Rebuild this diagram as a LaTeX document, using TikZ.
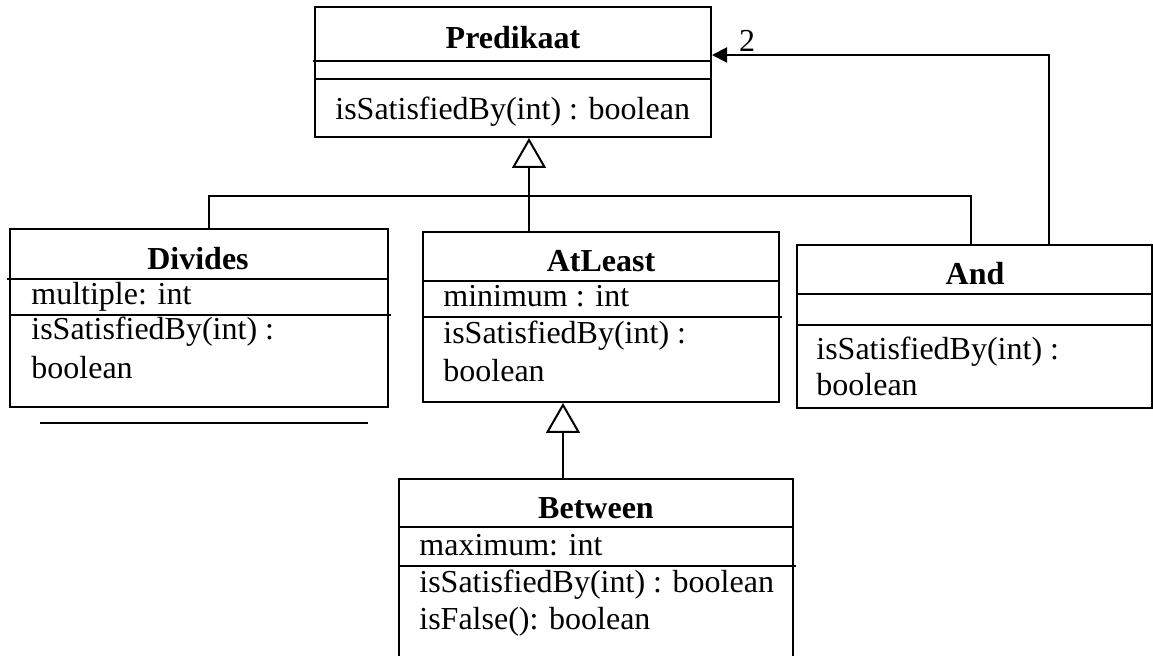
\documentclass[tikz,border=0pt]{standalone}
\usepackage{fontspec}
\setmainfont{Liberation Serif}
\usetikzlibrary{fit,arrows.meta}
\begin{document}
\begin{tikzpicture}[x=0.5pt,y=-0.5pt,
  every node/.style={font=\fontsize{16}{19}\selectfont},
  box/.style={draw,line width=1pt,inner sep=0pt,fill=none},
  sep/.style={line width=1pt},
  title/.style={anchor=base,inner sep=0pt,font=\fontsize{16}{19}\selectfont\bfseries},
  txt/.style={anchor=base west,inner sep=0pt},
  conn/.style={line width=1pt},
  gen/.style={line width=1pt,-{Triangle[open,length=15pt,width=17pt,line width=1pt]}},
  assoc/.style={line width=1pt,-{Triangle[length=7.5pt,width=7.5pt]}}]
\useasboundingbox (0,0) rectangle (1153,656);
\clip (0,0) rectangle (1153,656);

% Predikaat
\node[box,fit={(315,7) (711,137)}] (pred) {};
\draw[sep] (313,61) -- (711,61);
\draw[sep] (315,79) -- (712,79);
\node[title] (predt) at (513,49) {Predikaat};
\node[txt] (predm) at (335,120) {isSatisfiedBy(int) : boolean};

% Divides
\node[box,fit={(10,229) (388,407)}] (div) {};
\draw[sep] (7,279) -- (388,279);
\draw[sep] (10,315) -- (391,315);
\node[title] (divt) at (198,270) {Divides};
\node[txt] (diva) at (31,305) {multiple: int};
\node[txt] (divm) at (31,340) {isSatisfiedBy(int) :};
\node[txt] (divm2) at (31,379) {boolean};
\coordinate (ulA) at (40,423);
\coordinate (ulB) at (368,423);
\draw[line width=0.8pt] (ulA) -- (ulB);

% AtLeast
\node[box,fit={(423,232) (779,402)}] (atl) {};
\draw[sep] (423,281) -- (779,281);
\draw[sep] (423,317) -- (782,317);
\node[title] (atlt) at (601,272) {AtLeast};
\node[txt] (atla) at (443,307) {minimum : int};
\node[txt] (atlm) at (443,344) {isSatisfiedBy(int) :};
\node[txt] (atlm2) at (443,382) {boolean};

% And
\node[box,fit={(797,245) (1152,408)}] (and) {};
\draw[sep] (797,294) -- (1152,294);
\draw[sep] (797,325) -- (1152,325);
\node[title] (andt) at (975,285) {And};
\node[txt] (andm) at (816,360) {isSatisfiedBy(int) :};
\node[txt] (andm2) at (816,396) {boolean};

% Between
\node[box,fit={(399,479) (793,700)}] (btw) {};
\draw[sep] (399,527) -- (793,527);
\draw[sep] (399,566) -- (796,566);
\node[title] (btwt) at (596,519) {Between};
\node[txt] (btwa) at (419,556) {maximum: int};
\node[txt] (btwm) at (419,593) {isSatisfiedBy(int) : boolean};
\node[txt] (btwm2) at (419,630) {isFalse(): boolean};

% generalisation to Predikaat
\coordinate (gx) at (529,0);
\coordinate (dx) at (209,196);
\coordinate (ax) at (971,196);
\draw[gen] (atl.north -| gx) -- (pred.south -| gx);
\draw[conn] (div.north -| dx) -- (dx) -- (ax) -- (and.north -| ax);

% generalisation Between -> AtLeast
\coordinate (bx) at (563,0);
\draw[gen] (btw.north -| bx) -- (atl.south -| bx);

% association And -> Predikaat
\coordinate (asx) at (1049,55);
\draw[assoc] (and.north -| asx) -- (asx) -- (pred.east |- asx);
\node[anchor=base,inner sep=0pt] (mult) at (747,52) {2};
\end{tikzpicture}
\end{document}
